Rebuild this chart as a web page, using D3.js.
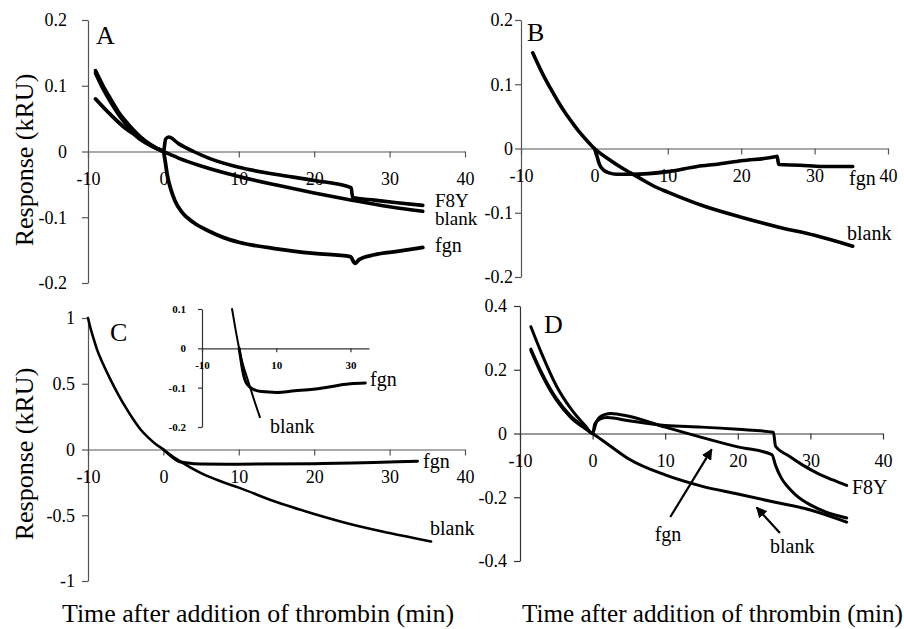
<!DOCTYPE html>
<html>
<head>
<meta charset="utf-8">
<script src="https://cdn.jsdelivr.net/npm/d3@7"></script>
</head>
<body style="margin:0">
<svg id="chart" width="904" height="629"></svg>
<script>
// ---- data (time in min, response in kRU) ----
var xTicks = [-10, 0, 10, 20, 30, 40];
var yTicksAB = [-0.2, -0.1, 0, 0.1, 0.2];
var yTicksC = [-1, -0.5, 0, 0.5, 1];
var yTicksD = [-0.4, -0.2, 0, 0.2, 0.4];
var insetXTicks = [-10, 10, 30];
var insetYTicks = [-0.2, -0.1, 0, 0.1];

// panel A
var aF8Y = [[-9,0.123],[-8,0.1],[-7,0.08],[-6,0.061],[-5,0.046],[-4,0.033],[-3,0.022],[-2,0.013],[-1,0.006],[0,0],
  [0.3,0.019],[0.7,0.022],[2,0.012],[4,0],[6,-0.01],[10,-0.024],[15,-0.035],[20,-0.044],[24.9,-0.055],[25.1,-0.07],
  [28,-0.074],[31,-0.078],[34.4,-0.082]];
var aBlank = [[-9,0.119],[-8,0.095],[-7,0.075],[-6,0.057],[-5,0.042],[-4,0.03],[-3,0.02],[-2,0.012],[-1,0.005],[0,0],
  [2,-0.01],[5,-0.022],[10,-0.038],[15,-0.051],[20,-0.063],[25,-0.074],[30,-0.084],[34.4,-0.091]];
var aFgn = [[-9,0.08],[-7,0.056],[-5,0.035],[-4,0.027],[-3,0.018],[-1,0.005],[0,0],
  [0.2,-0.012],[0.5,-0.035],[1,-0.058],[1.5,-0.074],[2.5,-0.093],[4,-0.108],[6,-0.121],[8,-0.131],[10,-0.138],
  [15,-0.148],[20,-0.155],[24.8,-0.16],[25.4,-0.17],[26,-0.164],[28,-0.157],[31,-0.152],[34.4,-0.146]];

// panel B
var bBlank = [[-8.4,0.149],[-7,0.115],[-6,0.094],[-5,0.074],[-4,0.056],[-3,0.04],[-2,0.025],[-1,0.012],[0,0],
  [2,-0.017],[4,-0.032],[6,-0.045],[8,-0.058],[10,-0.068],[15,-0.09],[20,-0.107],[25,-0.122],[30,-0.135],[35.2,-0.152]];
var bFgn = [[0,0],[0.3,-0.01],[0.7,-0.025],[1.2,-0.033],[2,-0.038],[3,-0.04],[5,-0.04],[10,-0.036],[14,-0.028],
  [17,-0.024],[20,-0.019],[24.6,-0.013],[24.9,-0.012],[25.1,-0.025],[28,-0.026],[31,-0.028],[35.2,-0.028]];

// panel C
var cBlank = [[-10,1.0],[-9.7,0.93],[-9.3,0.85],[-8.8,0.76],[-8,0.65],[-7,0.53],[-6,0.42],[-5,0.32],[-4,0.23],
  [-3,0.15],[-2,0.09],[-1,0.04],[0,0],
  [1,-0.045],[2.5,-0.1],[5,-0.18],[7.5,-0.24],[10,-0.29],[15,-0.4],[20,-0.49],[25,-0.57],[30,-0.635],[35.5,-0.7]];
var cFgn = [[0,0],[1,-0.05],[2,-0.09],[3,-0.1],[5,-0.11],[10,-0.112],[20,-0.108],[25,-0.103],[30,-0.095],[33.7,-0.09]];
// inset of C
var insetBlank = [[-1.9,0.1],[-1,0.05],[0,0],[1,-0.04],[2.5,-0.085],[4,-0.13],[5.6,-0.175]];
var insetFgn = [[0,0],[0.5,-0.03],[1,-0.058],[1.5,-0.078],[2.5,-0.095],[4,-0.105],[6,-0.11],[10,-0.112],[15,-0.108],
  [20,-0.104],[23,-0.1],[25,-0.097],[28,-0.092],[30,-0.09],[34,-0.088]];

// panel D
var dF8Y = [[-8.5,0.265],[-7,0.19],[-5,0.11],[-3,0.055],[-1,0.018],[0,0],[0.3,0.03],[1,0.045],[2,0.05],[5,0.04],
  [10,0.025],[15,0.02],[20,0.013],[24.9,0.004],[25.2,-0.04],[27,-0.07],[29,-0.1],[31,-0.125],[33,-0.145],[35,-0.163]];
var dFgn = [[-8.5,0.335],[-7,0.25],[-5,0.15],[-3,0.078],[-1,0.024],[0,0],[0.5,0.035],[1,0.052],[2.5,0.063],[5,0.054],
  [10,0.02],[15,-0.012],[20,-0.042],[24.7,-0.066],[25.2,-0.1],[26,-0.14],[27,-0.17],[28,-0.193],[30,-0.224],
  [32,-0.245],[35,-0.265]];
var dBlank = [[-8.5,0.26],[-7,0.185],[-5,0.105],[-3,0.05],[-1,0.015],[0,0],[2,-0.032],[5,-0.08],[10,-0.13],
  [15,-0.165],[20,-0.19],[25,-0.215],[30,-0.24],[35,-0.278]];
var dArrows = [
  {from: [10.7, -0.262], to: [16.4, -0.05]},
  {from: [25.8, -0.312], to: [22.6, -0.232]}
];

var fontNames = ["Liberation Serif"];
var SERIF = fontNames.map(function(f) { return "'" + f + "'"; }).join(", ");
var svg = d3.select("#chart");

svg.append("defs").append("marker")
  .attr("id", "head")
  .attr("viewBox", "0 0 10 10")
  .attr("refX", 9).attr("refY", 5)
  .attr("markerWidth", 5).attr("markerHeight", 5)
  .attr("markerUnits", "strokeWidth")
  .attr("orient", "auto")
  .append("path").attr("d", "M0,0L10,5L0,10z").attr("fill", "#000");

function drawPanel(p) {
  var g = svg.append("g");
  var x = d3.scaleLinear().domain(p.xDomain).range(p.xRange);
  var y = d3.scaleLinear().domain(p.yDomain).range(p.yRange);
  var fmt = function(d) { return String(d); };

  var ya = g.append("g")
    .attr("transform", "translate(" + x(p.xDomain[0]) + ",0)")
    .call(d3.axisLeft(y).tickValues(p.yTicks).tickSize(p.tick).tickSizeOuter(0)
      .tickPadding(p.yPad).tickFormat(fmt));
  var xa = g.append("g")
    .attr("transform", "translate(0," + y(0) + ")")
    .call(d3.axisBottom(x).tickValues(p.xTicks).tickSize(p.tick).tickSizeOuter(0).tickFormat(fmt));

  [ya, xa].forEach(function(a) {
    a.attr("font-family", null).attr("font-size", null);
    a.selectAll(".domain, line").attr("stroke", p.axisColor).attr("stroke-width", p.axisWidth);
    a.selectAll("text").attr("fill", "#000")
      .style("font-family", SERIF)
      .style("font-size", p.tickFont + "px").style("font-weight", p.bold ? "bold" : "normal");
  });
  xa.selectAll("text").attr("dy", null).attr("y", p.xLabelY);

  var line = d3.line()
    .x(function(d) { return x(d[0]); })
    .y(function(d) { return y(d[1]); })
    .curve(d3.curveMonotoneX);

  p.series.forEach(function(s) {
    g.append("path").datum(s.data)
      .attr("fill", "none").attr("stroke", "#000")
      .attr("stroke-width", s.width).attr("stroke-linejoin", "round").attr("stroke-linecap", "round")
      .attr("d", line);
  });
  return {x: x, y: y, g: g};
}

function label(t, px, py, size, anchor) {
  svg.append("text").attr("x", px).attr("y", py)
    .attr("text-anchor", anchor || "start")
    .style("font-family", SERIF)
    .style("font-size", size + "px").text(t);
}

var A = drawPanel({xDomain: [-10, 40], xRange: [88, 465], yDomain: [-0.2, 0.2], yRange: [283, 20],
  xTicks: xTicks, yTicks: yTicksAB, tick: 6, yPad: 15, xLabelY: 33, tickFont: 18,
  axisColor: "#555", axisWidth: 1.2,
  series: [{data: aF8Y, width: 3.6}, {data: aBlank, width: 3.6}, {data: aFgn, width: 3.8}]});
var B = drawPanel({xDomain: [-10, 40], xRange: [521, 888], yDomain: [-0.2, 0.2], yRange: [277, 20],
  xTicks: xTicks, yTicks: yTicksAB, tick: 6, yPad: 2, xLabelY: 33, tickFont: 18,
  axisColor: "#555", axisWidth: 1.2,
  series: [{data: bBlank, width: 3.6}, {data: bFgn, width: 3.6}]});
var C = drawPanel({xDomain: [-10, 40], xRange: [88, 465], yDomain: [-1, 1], yRange: [581, 318],
  xTicks: xTicks, yTicks: yTicksC, tick: 6, yPad: 7, xLabelY: 33, tickFont: 18,
  axisColor: "#555", axisWidth: 1.2,
  series: [{data: cBlank, width: 2.6}, {data: cFgn, width: 3}]});
var I = drawPanel({xDomain: [-10, 35], xRange: [202, 369], yDomain: [-0.2, 0.1], yRange: [427, 309],
  xTicks: insetXTicks, yTicks: insetYTicks, tick: 4, yPad: 12, xLabelY: 21, tickFont: 11, bold: true,
  axisColor: "#333", axisWidth: 1.2,
  series: [{data: insetBlank, width: 2}, {data: insetFgn, width: 3}]});
var D = drawPanel({xDomain: [-10, 40], xRange: [520, 883], yDomain: [-0.4, 0.4], yRange: [561, 306],
  xTicks: xTicks, yTicks: yTicksD, tick: 6, yPad: 7, xLabelY: 33, tickFont: 18,
  axisColor: "#333", axisWidth: 1.2,
  series: [{data: dF8Y, width: 3}, {data: dFgn, width: 3}, {data: dBlank, width: 3}]});

dArrows.forEach(function(a) {
  svg.append("line")
    .attr("x1", D.x(a.from[0])).attr("y1", D.y(a.from[1]))
    .attr("x2", D.x(a.to[0])).attr("y2", D.y(a.to[1]))
    .attr("stroke", "#000").attr("stroke-width", 2.2)
    .attr("marker-end", "url(#head)");
});

// panel letters
label("A", 96, 44, 26);
label("B", 527, 41, 26);
label("C", 110, 341, 26);
label("D", 544, 333, 26);

// series labels
label("F8Y", 435, 207, 19);
label("blank", 435, 225, 19);
label("fgn", 435, 252, 20);
label("fgn", 849, 185, 20);
label("blank", 847, 240, 20);
label("fgn", 423, 468, 20);
label("blank", 430, 535, 20);
label("fgn", 370, 386, 20);
label("blank", 270, 433, 20);
label("F8Y", 852, 494, 20);
label("fgn", 668, 541, 20, "middle");
label("blank", 770, 553, 20);

// axis titles
svg.append("text").attr("transform", "translate(33,160) rotate(-90)")
  .attr("text-anchor", "middle").style("font-family", SERIF).style("font-size", "26px").text("Response (kRU)");
svg.append("text").attr("transform", "translate(33,454) rotate(-90)")
  .attr("text-anchor", "middle").style("font-family", SERIF).style("font-size", "26px").text("Response (kRU)");
svg.append("text").attr("x", 62).attr("y", 622).attr("textLength", 392).attr("lengthAdjust", "spacingAndGlyphs")
  .style("font-family", SERIF).style("font-size", "25px").text("Time after addition of thrombin (min)");
svg.append("text").attr("x", 522).attr("y", 622).attr("textLength", 381).attr("lengthAdjust", "spacingAndGlyphs")
  .style("font-family", SERIF).style("font-size", "25px").text("Time after addition of thrombin (min)");
</script>
</body>
</html>
